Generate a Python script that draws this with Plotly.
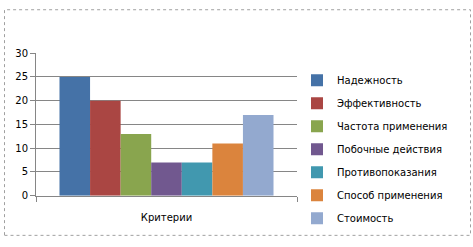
import plotly.graph_objects as go

categories = ["Критерии"]
series_names = ["Надежность", "Эффективность", "Частота применения",
                "Побочные действия", "Противопоказания", "Способ применения", "Стоимость"]
series_values = [25, 20, 13, 7, 7, 11, 17]
colors = ["#4572A7", "#AA4643", "#89A54E", "#71588F", "#4198AF", "#DB843D", "#93A9CF"]
y_ticks = [0, 5, 10, 15, 20, 25, 30]

W, H = 473, 247
L, R = 36, 297          # plot area x pixels
GT, GB = 10, 237        # grid (paper) y pixels
AT, AB = 50, 199        # y axis extent in pixels

pw, ph = R - L, GB - GT
def px(x): return (x - L) / pw
def py(y): return (GB - y) / ph

fig = go.Figure()
for i, (name, val, col) in enumerate(zip(series_names, series_values, colors)):
    fig.add_trace(go.Bar(x=categories, y=[val], name=name, marker_color=col,
                         marker_line_width=0, legendgroup=str(i)))

fig.update_layout(
    width=W, height=H,
    margin=dict(l=L, r=W - R, t=GT, b=H - GB, pad=0),
    paper_bgcolor="white", plot_bgcolor="rgba(0,0,0,0)",
    barmode="group", bargap=0.18, bargroupgap=0,
    font=dict(family="DejaVu Sans", size=10, color="#000000"),
    showlegend=True,
    legend=dict(x=px(297), xanchor="left", y=py(63), yanchor="top",
                tracegroupgap=4, font=dict(size=10), bgcolor="rgba(0,0,0,0)"),
    xaxis=dict(range=[-0.5, 0.5], showline=True, linecolor="#868686", linewidth=1,
               ticks="outside", tickson="boundaries", ticklen=5, tickcolor="#868686",
               showgrid=False, tickfont=dict(size=10), ticklabelstandoff=12),
    yaxis=dict(range=[0, 30], domain=[py(AB), py(AT)], tickvals=y_ticks, showline=True,
               linecolor="#868686", linewidth=1, ticks="outside", ticklen=5,
               tickcolor="#868686", gridcolor="#868686", gridwidth=1, zeroline=False,
               tickfont=dict(size=10)),
    shapes=[dict(type="rect", xref="paper", yref="paper",
                 x0=px(4.5), x1=px(470.5), y0=py(240.5), y1=py(4.5),
                 line=dict(color="#A0A0A0", width=1, dash="dot"), layer="below")],
)

fig.write_html("out.html")
